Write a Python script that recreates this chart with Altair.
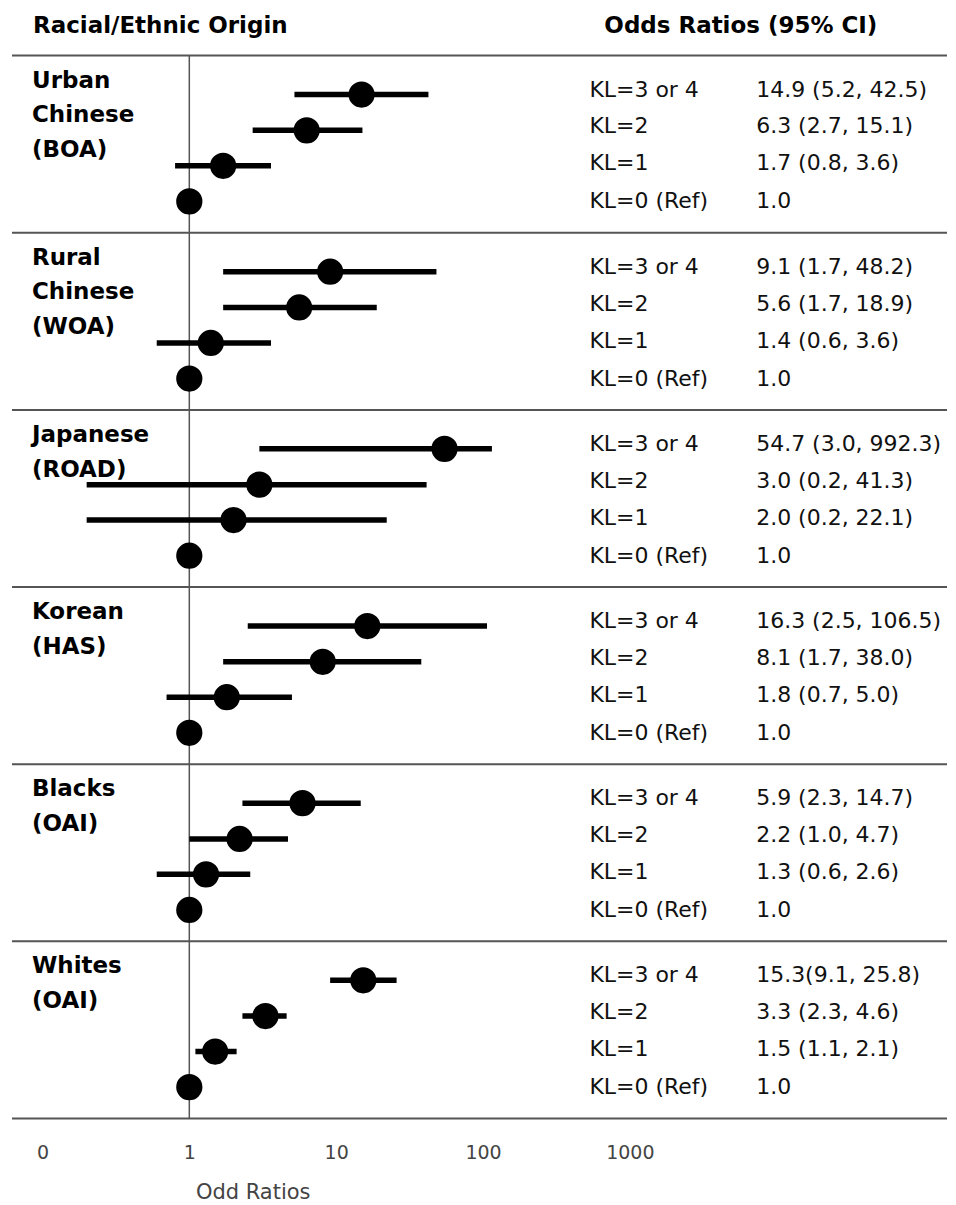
import altair as alt
import pandas as pd

# ---------------- data ----------------
group_lines = [
    ["Urban", "Chinese", "(BOA)"],
    ["Rural", "Chinese", "(WOA)"],
    ["Japanese", "(ROAD)"],
    ["Korean", "(HAS)"],
    ["Blacks", "(OAI)"],
    ["Whites", "(OAI)"],
]
kl_labels = ["KL=3 or 4", "KL=2", "KL=1", "KL=0 (Ref)"]

or_est = [
    [14.9, 6.3, 1.7, 1.0],
    [9.1, 5.6, 1.4, 1.0],
    [54.7, 3.0, 2.0, 1.0],
    [16.3, 8.1, 1.8, 1.0],
    [5.9, 2.2, 1.3, 1.0],
    [15.3, 3.3, 1.5, 1.0],
]
ci_low = [
    [5.2, 2.7, 0.8, None],
    [1.7, 1.7, 0.6, None],
    [3.0, 0.2, 0.2, None],
    [2.5, 1.7, 0.7, None],
    [2.3, 1.0, 0.6, None],
    [9.1, 2.3, 1.1, None],
]
ci_high = [
    [42.5, 15.1, 3.6, None],
    [48.2, 18.9, 3.6, None],
    [992.3, 41.3, 22.1, None],
    [106.5, 38.0, 5.0, None],
    [14.7, 4.7, 2.6, None],
    [25.8, 4.6, 2.1, None],
]
or_text = [
    ["14.9 (5.2, 42.5)", "6.3 (2.7, 15.1)", "1.7 (0.8, 3.6)", "1.0"],
    ["9.1 (1.7, 48.2)", "5.6 (1.7, 18.9)", "1.4 (0.6, 3.6)", "1.0"],
    ["54.7 (3.0, 992.3)", "3.0 (0.2, 41.3)", "2.0 (0.2, 22.1)", "1.0"],
    ["16.3 (2.5, 106.5)", "8.1 (1.7, 38.0)", "1.8 (0.7, 5.0)", "1.0"],
    ["5.9 (2.3, 14.7)", "2.2 (1.0, 4.7)", "1.3 (0.6, 2.6)", "1.0"],
    ["15.3(9.1, 25.8)", "3.3 (2.3, 4.6)", "1.5 (1.1, 2.1)", "1.0"],
]
axis_ticks = [0.1, 1, 10, 100, 1000]
ref_value = 1.0
header_left = "Racial/Ethnic Origin"
header_right = "Odds Ratios (95% CI)"
axis_title = "Odd Ratios"
draw_cap = 115  # CI whiskers in the figure are truncated here

# ---------------- layout ----------------
W, H = 940, 1111
GROUP_PX = 177.33
TOP_PX = 47
one_px = 181.5          # pixel of OR=1 within plot
decade = 147.0
x_lo = 10 ** (-one_px / decade)
x_hi = 10 ** ((W - one_px) / decade)
y_top = -TOP_PX / GROUP_PX
n_groups = len(group_lines)
row_off = [0.22, 0.422, 0.622, 0.823]
txt_off = [0.192, 0.400, 0.609, 0.823]
FONT = "DejaVu Sans"

rows = []
for g in range(n_groups):
    for k in range(4):
        hi = ci_high[g][k]
        rows.append(dict(
            g=g, pos=g + row_off[k], tpos=g + txt_off[k], kl=kl_labels[k],
            est=or_est[g][k], lo=ci_low[g][k], hi=hi,
            hi_draw=(min(hi, draw_cap) if hi is not None else None),
            txt=or_text[g][k],
        ))
df = pd.DataFrame(rows)
ci_df = df.dropna(subset=["lo"]).copy()
ci_df["lo"] = ci_df["lo"].astype(float)
ci_df["hi_draw"] = ci_df["hi_draw"].astype(float)
ci_df = ci_df[["pos", "lo", "hi_draw"]]
pt_df = df[["pos", "est"]].copy()
txt_df = df[["tpos", "kl", "txt"]].copy()

lab_rows = []
for g, lines in enumerate(group_lines):
    for i, line in enumerate(lines):
        lab_rows.append(dict(pos=g + 0.142 + i * 0.195, t=line))
lab_df = pd.DataFrame(lab_rows)

sep_df = pd.DataFrame({"b": [float(i) for i in range(n_groups + 1)]})
ref_df = pd.DataFrame({"one": [ref_value], "y0": [0.0], "y1": [float(n_groups)]})

xscale = alt.Scale(type="log", domain=[x_lo, x_hi], nice=False)
yscale = alt.Scale(domain=[y_top, n_groups], reverse=True, nice=False, zero=False)
xaxis = alt.Axis(
    values=axis_ticks,
    labelExpr="datum.value < 0.5 ? '0' : format(datum.value, 'd')",
    domain=False, ticks=False, grid=False,
    labelPadding=25, labelFontSize=19, labelColor="#444", labelFont=FONT,
    title=axis_title, titleFont=FONT, titleFontSize=21, titleFontWeight="normal",
    titleColor="#444", titleX=245, titleY=74, titleAlign="center",
    titleBaseline="middle",
)


def X(field):
    return alt.X(field, type="quantitative", scale=xscale, axis=xaxis)


def Y(field):
    return alt.Y(field, type="quantitative", scale=yscale, axis=None)


seps = alt.Chart(sep_df).mark_rule(color="#555", strokeWidth=2).encode(
    y=Y("b"), x=alt.value(4), x2=alt.value(W)
)

refline = alt.Chart(ref_df).mark_rule(color="#555", strokeWidth=1.5).encode(
    x=X("one"), y=Y("y0"), y2="y1:Q"
)

ci = alt.Chart(ci_df).mark_rule(color="black", strokeWidth=5.5).encode(
    x=X("lo"), x2="hi_draw:Q", y=Y("pos")
)

pts = alt.Chart(pt_df).mark_circle(color="black", opacity=1, size=690).encode(
    x=X("est"), y=Y("pos")
)

kl_txt = alt.Chart(txt_df).mark_text(
    align="left", baseline="middle", font=FONT, fontSize=22, color="#111"
).encode(x=alt.value(582), y=Y("tpos"), text="kl:N")

or_txt = alt.Chart(txt_df).mark_text(
    align="left", baseline="middle", font=FONT, fontSize=22, color="#111"
).encode(x=alt.value(749), y=Y("tpos"), text="txt:N")

grp_txt = alt.Chart(lab_df).mark_text(
    align="left", baseline="middle", font=FONT, fontSize=23,
    fontWeight="bold", color="black"
).encode(x=alt.value(24), y=Y("pos"), text="t:N")

hdr_l = alt.Chart(pd.DataFrame({"t": [header_left]})).mark_text(
    align="left", baseline="middle", font=FONT, fontSize=23,
    fontWeight="bold", color="black"
).encode(x=alt.value(25), y=alt.value(17), text="t:N")

hdr_r = alt.Chart(pd.DataFrame({"t": [header_right]})).mark_text(
    align="left", baseline="middle", font=FONT, fontSize=23,
    fontWeight="bold", color="black"
).encode(x=alt.value(597), y=alt.value(17), text="t:N")

chart = alt.layer(
    seps, refline, ci, pts, kl_txt, or_txt, grp_txt, hdr_l, hdr_r
).properties(
    width=W, height=H, background="white",
    padding={"left": 0, "top": 0, "right": 0, "bottom": 20},
).configure_view(stroke=None)

chart.save("out.html", embed_options={"renderer": "svg", "actions": False})
